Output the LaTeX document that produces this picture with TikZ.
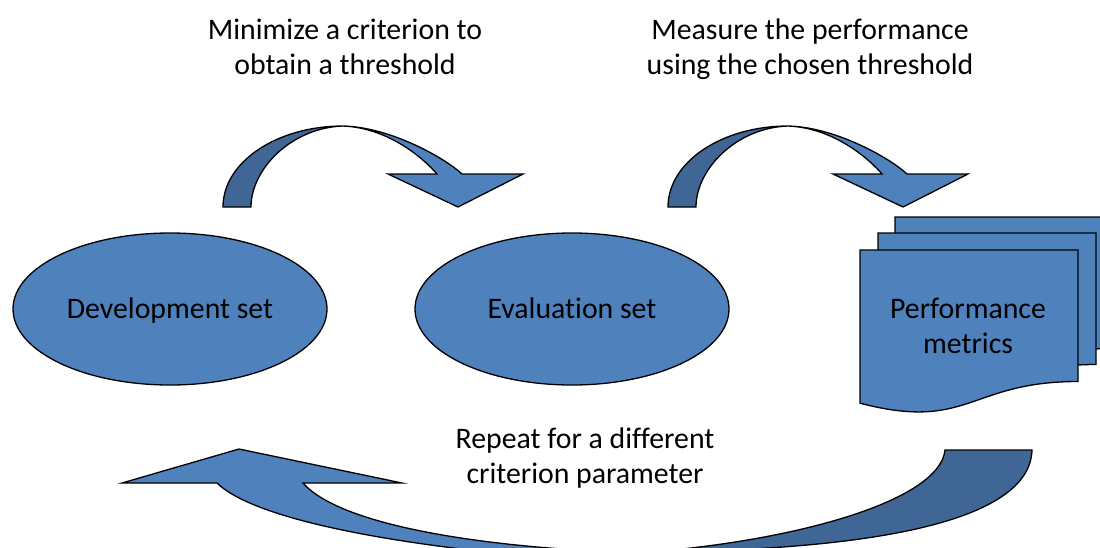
\documentclass[tikz,border=0pt]{standalone}
\usepackage{fontspec}
\setmainfont{Carlito}[Ligatures=NoCommon]
\usetikzlibrary{shapes.geometric}
\definecolor{blueL}{HTML}{4F81BD}
\definecolor{blueD}{HTML}{406696}
\begin{document}
\begin{tikzpicture}[x=1pt,y=-1pt,
  txt/.style={font=\fontsize{29.8}{35.5}\selectfont},
  setnode/.style={ellipse, draw=black, line width=1.3pt, fill=blueL,
    minimum width=314pt, minimum height=152pt, inner sep=0pt, txt,
    text height=22pt, text depth=4pt},
  lbl/.style={align=center, inner sep=0pt, txt},
  frontpart/.style={fill=blueL, draw=black, line width=1.3pt, line join=miter},
  backpart/.style={fill=blueD, draw=black, line width=1.3pt, line join=miter},
  docpage/.style={fill=blueL, draw=black, line width=1.3pt}]
\useasboundingbox (0,0) rectangle (1100,547);
\clip (0,0) rectangle (1100,547);

% set ellipses
\node[setnode] (dev) at (170,309) {Development set};
\node[setnode] (eval) at (572,309) {Evaluation set};

% stacked documents
\path[docpage] (895,217) -- (1113,217) -- (1113,348.5)
  .. controls (1004,348.5) and (1004,398.6) .. (895,370.2) -- cycle;
\path[docpage] (878,233) -- (1096,233) -- (1096,364.5)
  .. controls (987,364.5) and (987,414.6) .. (878,386.2) -- cycle;
\path[docpage] (860,250) -- (1078,250) -- (1078,381.5)
  .. controls (969,381.5) and (969,431.6) .. (860,403.2) -- cycle;
\node[lbl] (perf) at (968,326) {Performance\\metrics};

% curved arrows on top
\foreach \s in {0,445}{
  \begin{scope}[xshift=\s]
    \path[backpart] (223,207) .. controls (223,162) and (277,126) .. (343,126)
      .. controls (290,128) and (251,170) .. (251,207) -- cycle;
    \path[frontpart] (343,126) .. controls (390,127) and (445,158) .. (462,174)
      -- (523,174) -- (458,207) -- (388,174) -- (437,174)
      .. controls (425,160) and (390,128) .. (343,126) -- cycle;
  \end{scope}
}

% bottom return arrow
\path[backpart] (945,450) -- (1032,450)
  .. controls (1030,520) and (880,550) .. (650,552)
  .. controls (800,540) and (940,500) .. (945,450) -- cycle;
\path[frontpart] (122,483) -- (239,449) -- (402,483) -- (303,483)
  .. controls (340,525) and (480,548) .. (640,553)
  -- (640,600) -- (600,600) -- (600,562)
  .. controls (400,548) and (255,520) .. (217,483) -- cycle;

% labels
\node[lbl] (lab1) at (345,47) {Minimize a criterion to\\obtain a threshold};
\node[lbl] (lab2) at (810,49) {Measure the performance\\using the chosen threshold};
\node[lbl] (lab3) at (585,458) {Repeat for a different\\criterion parameter};
\end{tikzpicture}
\end{document}
